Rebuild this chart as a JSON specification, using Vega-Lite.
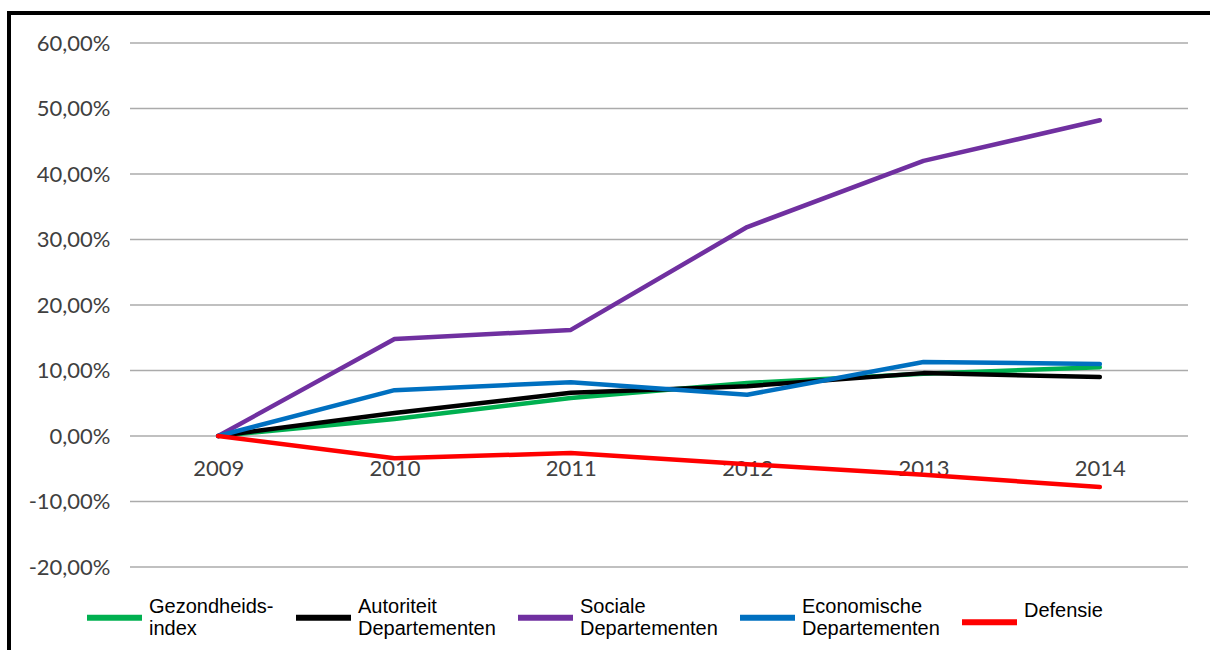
{
  "$schema": "https://vega.github.io/schema/vega-lite/v6.json",
  "autosize": {"type": "none"},
  "padding": {"left": 9, "top": 13, "right": 0, "bottom": 0},
  "width": 1206,
  "height": 640,
  "background": "white",
  "config": {"view": {"stroke": "#000000", "strokeWidth": 4, "fill": "white"}},
  "datasets": {
    "grid": [{"v": -20}, {"v": -10}, {"v": 0}, {"v": 10}, {"v": 20}, {"v": 30}, {"v": 40}, {"v": 50}, {"v": 60}],
    "series": [
      {"reeks": "Gezondheids- index", "jaar": 2009, "waarde": 0},
      {"reeks": "Gezondheids- index", "jaar": 2010, "waarde": 2.6},
      {"reeks": "Gezondheids- index", "jaar": 2011, "waarde": 5.8},
      {"reeks": "Gezondheids- index", "jaar": 2012, "waarde": 8.1},
      {"reeks": "Gezondheids- index", "jaar": 2013, "waarde": 9.5},
      {"reeks": "Gezondheids- index", "jaar": 2014, "waarde": 10.5},
      {"reeks": "Autoriteit Departementen", "jaar": 2009, "waarde": 0},
      {"reeks": "Autoriteit Departementen", "jaar": 2010, "waarde": 3.5},
      {"reeks": "Autoriteit Departementen", "jaar": 2011, "waarde": 6.6},
      {"reeks": "Autoriteit Departementen", "jaar": 2012, "waarde": 7.6},
      {"reeks": "Autoriteit Departementen", "jaar": 2013, "waarde": 9.6},
      {"reeks": "Autoriteit Departementen", "jaar": 2014, "waarde": 9.0},
      {"reeks": "Sociale Departementen", "jaar": 2009, "waarde": 0},
      {"reeks": "Sociale Departementen", "jaar": 2010, "waarde": 14.8},
      {"reeks": "Sociale Departementen", "jaar": 2011, "waarde": 16.2},
      {"reeks": "Sociale Departementen", "jaar": 2012, "waarde": 31.9},
      {"reeks": "Sociale Departementen", "jaar": 2013, "waarde": 42.0},
      {"reeks": "Sociale Departementen", "jaar": 2014, "waarde": 48.2},
      {"reeks": "Economische Departementen", "jaar": 2009, "waarde": 0},
      {"reeks": "Economische Departementen", "jaar": 2010, "waarde": 7.0},
      {"reeks": "Economische Departementen", "jaar": 2011, "waarde": 8.2},
      {"reeks": "Economische Departementen", "jaar": 2012, "waarde": 6.3},
      {"reeks": "Economische Departementen", "jaar": 2013, "waarde": 11.3},
      {"reeks": "Economische Departementen", "jaar": 2014, "waarde": 11.0},
      {"reeks": "Defensie", "jaar": 2009, "waarde": 0},
      {"reeks": "Defensie", "jaar": 2010, "waarde": -3.4},
      {"reeks": "Defensie", "jaar": 2011, "waarde": -2.6},
      {"reeks": "Defensie", "jaar": 2012, "waarde": -4.3},
      {"reeks": "Defensie", "jaar": 2013, "waarde": -5.9},
      {"reeks": "Defensie", "jaar": 2014, "waarde": -7.8}
    ]
  },
  "layer": [
    {
      "data": {"name": "grid"},
      "mark": {"type": "rule", "color": "#ababab", "strokeWidth": 1.6},
      "encoding": {
        "y": {"field": "v", "type": "quantitative",
              "scale": {"domain": [-20, 60], "range": [554, 30], "nice": false, "zero": false},
              "axis": {"orient": "left", "offset": -108, "values": [-20, -10, 0, 10, 20, 30, 40, 50, 60],
                       "grid": false, "domain": false, "ticks": false, "tickSize": 0, "labelPadding": 7,
                       "labelFont": "Lato", "labelFontSize": 22, "labelColor": "#404040", "labelOverlap": false,
                       "labelExpr": "replace(replace(format(datum.value, '.2f'), '.', ','), '\u2212', '-') + '%'",
                       "title": null}},
        "x": {"datum": 2008.5, "type": "quantitative",
              "scale": {"domain": [2008.5, 2014.5], "range": [121, 1179], "nice": false, "zero": false},
              "axis": {"orient": "bottom", "offset": -195, "values": [2009, 2010, 2011, 2012, 2013, 2014], "format": "d",
                       "grid": false, "domain": false, "ticks": false, "tickSize": 0, "labelPadding": 0,
                       "labelFont": "Lato", "labelFontSize": 22, "labelColor": "#404040", "labelFlush": false,
                       "labelOverlap": false, "title": null}},
        "x2": {"datum": 2014.5}
      }
    },
    {
      "data": {"name": "series"},
      "mark": {"type": "line", "strokeWidth": 4.5, "strokeCap": "round", "strokeJoin": "round"},
      "encoding": {
        "x": {"field": "jaar", "type": "quantitative",
              "scale": {"domain": [2008.5, 2014.5], "range": [121, 1179], "nice": false, "zero": false},
              "axis": {"orient": "bottom", "offset": -195, "values": [2009, 2010, 2011, 2012, 2013, 2014], "format": "d",
                       "grid": false, "domain": false, "ticks": false, "tickSize": 0, "labelPadding": 0,
                       "labelFont": "Lato", "labelFontSize": 22, "labelColor": "#404040", "labelFlush": false,
                       "labelOverlap": false, "title": null}},
        "y": {"field": "waarde", "type": "quantitative",
              "scale": {"domain": [-20, 60], "range": [554, 30], "nice": false, "zero": false},
              "axis": {"orient": "left", "offset": -108, "values": [-20, -10, 0, 10, 20, 30, 40, 50, 60],
                       "grid": false, "domain": false, "ticks": false, "tickSize": 0, "labelPadding": 7,
                       "labelFont": "Lato", "labelFontSize": 22, "labelColor": "#404040", "labelOverlap": false,
                       "labelExpr": "replace(replace(format(datum.value, '.2f'), '.', ','), '\u2212', '-') + '%'",
                       "title": null}},
        "color": {"field": "reeks", "type": "nominal",
                  "scale": {"domain": ["Gezondheids- index", "Autoriteit Departementen", "Sociale Departementen", "Economische Departementen", "Defensie"],
                            "range": ["#00b050", "#000000", "#7030a0", "#0070c0", "#ff0000"]},
                  "legend": {"orient": "none", "legendX": 75, "legendY": 563, "direction": "horizontal", "columns": 5,
                             "title": null, "symbolType": "M-1,0.4L1,0.4", "symbolSize": 3025, "symbolStrokeWidth": 6,
                             "labelFont": "Liberation Sans", "labelFontSize": 20, "labelColor": "#000000",
                             "labelLimit": 300, "labelOffset": 4, "columnPadding": 10, "padding": 0,
                             "labelExpr": "split(datum.label, ' ')"}}
      }
    }
  ]
}
